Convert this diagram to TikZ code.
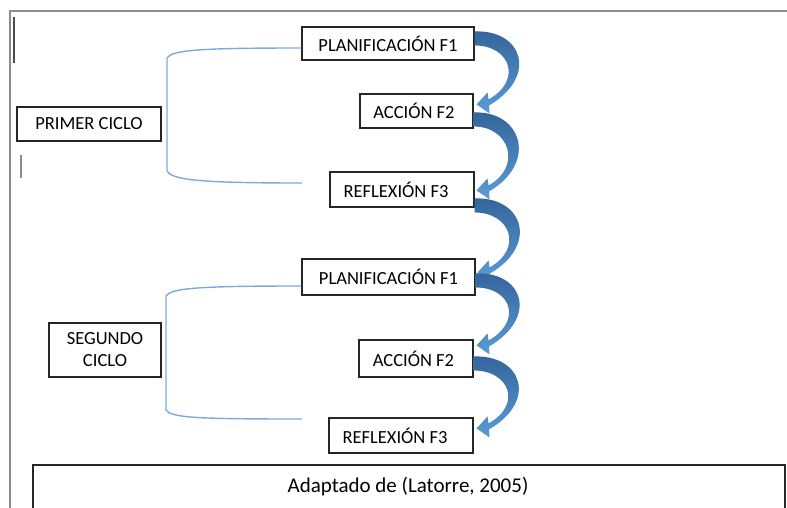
\documentclass[tikz,border=0pt]{standalone}
\usepackage{fontspec}
\setmainfont{Carlito}
\usetikzlibrary{calc}
\definecolor{adark}{RGB}{52,100,155}
\definecolor{alight}{RGB}{91,155,213}
\definecolor{amid}{RGB}{80,140,200}
\definecolor{brk}{RGB}{125,170,222}
\definecolor{framec}{RGB}{140,140,140}
\newcommand\cyclearrow[2]{%
  \shade[top color=adark, middle color=amid, bottom color=alight] let \p1=(#1), \p2=(#2) in
  ({\x1},{\y1}) .. controls ({\x1+48pt},{\y1+2pt}) and ({\x2+62pt},{\y2+28pt}) .. ({\x2+12.5pt},{\y2-1pt})
  -- ({\x2+13pt},{\y2-9pt}) -- ({\x2},{\y2}) -- ({\x2+11pt},{\y2+12pt}) -- ({\x2+12pt},{\y2+5pt})
  .. controls ({\x2+46pt},{\y2+24pt}) and ({\x1+36pt},{\y1-14pt}) .. ({\x1},{\y1-14pt}) -- cycle;}
\tikzset{
  box/.style={draw=black!85, line width=1.1pt, inner sep=0pt, font=\fontsize{18.5}{22}\selectfont, align=center},
  brace/.style={draw=brk, line width=1.4pt},
  framel/.style={draw=framec, line width=2pt},
}
\begin{document}
\begin{tikzpicture}[x=1pt,y=-1pt]
\useasboundingbox (0,0) rectangle (787,508);
% frame
\draw[framel] (10,508) -- (10,11) -- (787,11);
\draw[draw=black!70, line width=1.5pt] (14,17) -- (14,63);
\draw[draw=black!45, line width=1.5pt] (21,155) -- (21,178);
% boxes
\node[box, minimum width=172pt, minimum height=33pt] (pf1) at (388,43.5) {PLANIFICACIÓN F1};
\node[box, minimum width=113pt, minimum height=34pt] (ac1) at (416.5,111) {ACCIÓN F2\hspace*{5pt}};
\node[box, minimum width=144pt, minimum height=35pt] (rf1) at (402,189.5) {REFLEXIÓN F3\hspace*{12pt}};
\node[box, minimum width=173pt, minimum height=36pt] (pf2) at (388.5,277) {PLANIFICACIÓN F1};
\node[box, minimum width=114pt, minimum height=37pt] (ac2) at (416,358.5) {ACCIÓN F2\hspace*{5pt}};
\node[box, minimum width=144pt, minimum height=35pt] (rf2) at (401,435.5) {REFLEXIÓN F3\hspace*{12pt}};
\node[box, minimum width=144pt, minimum height=34pt] (c1) at (89,124) {PRIMER CICLO};
\node[box, minimum width=112pt, minimum height=54pt] (c2) at (105,350) {SEGUNDO\\CICLO};
% source box
\draw[draw=black!85, line width=1.1pt] (33,510) -- (33,465) -- (785,465) -- (785,510);
\node[font=\fontsize{21}{24}\selectfont, inner sep=0pt] (src) at (408,487) {Adaptado de (Latorre, 2005)};
% braces
\coordinate (b1a) at ([yshift=-4.5pt]pf1.west);
\coordinate (b1b) at (302,183);
\draw[brace] (b1a) .. controls (200,48) and (172,50) .. (167,58) -- (167,171) .. controls (172,180) and (200,183) .. (b1b);
\coordinate (b2a) at ([yshift=-9pt]pf2.west);
\coordinate (b2b) at (302,419);
\draw[brace] (b2a) .. controls (200,286) and (171,288) .. (166,296) -- (166,410) .. controls (171,418) and (200,419) .. (b2b);
% cycle arrows
\coordinate (s1) at ([yshift=-5pt]pf1.north east);
\coordinate (t1) at ([xshift=3pt,yshift=-11pt]ac1.north east);
\coordinate (s2) at ([yshift=-19pt]ac1.north east);
\coordinate (t2) at ([xshift=2pt,yshift=-19pt]rf1.north east);
\coordinate (s3) at ([yshift=-27pt]rf1.north east);
\coordinate (t3) at ([xshift=2pt,yshift=-14pt]pf2.north east);
\coordinate (s4) at ([yshift=-15pt]pf2.north east);
\coordinate (t4) at ([xshift=3pt,yshift=-6pt]ac2.north east);
\coordinate (s5) at ([yshift=-17pt]ac2.north east);
\coordinate (t5) at ([xshift=3pt,yshift=-11pt]rf2.north east);
\cyclearrow{s1}{t1}
\cyclearrow{s2}{t2}
\cyclearrow{s3}{t3}
\cyclearrow{s4}{t4}
\cyclearrow{s5}{t5}
\end{tikzpicture}
\end{document}
